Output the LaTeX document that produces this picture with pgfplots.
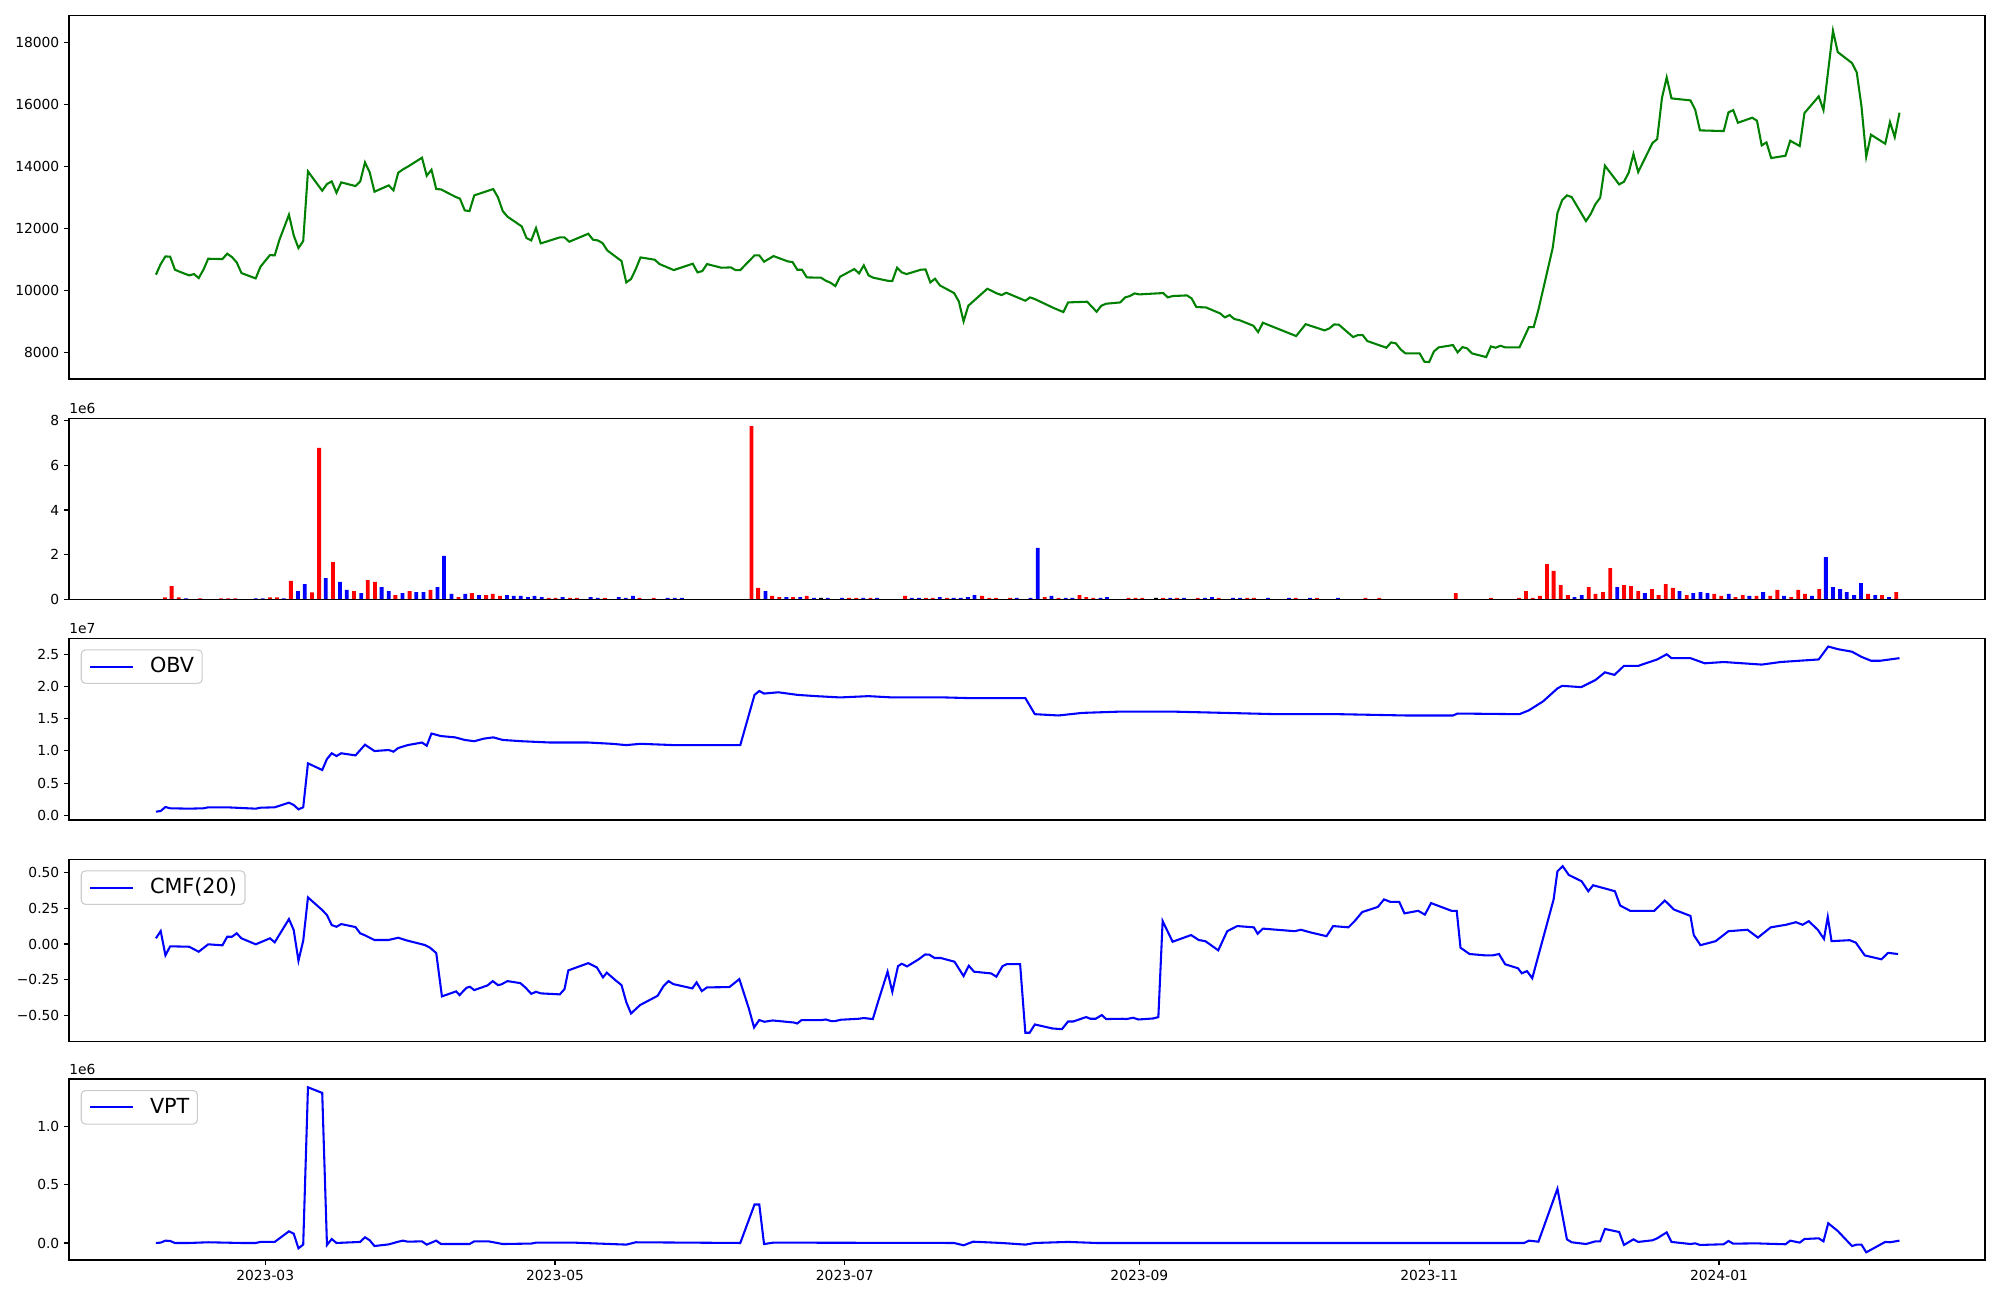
\documentclass[border=0pt]{standalone}
\usepackage{fontspec}
\setmainfont{DejaVu Sans}
\usepackage{pgfplots}
\pgfplotsset{compat=1.18}
\definecolor{mgreen}{RGB}{0,128,0}
\definecolor{mblue}{RGB}{0,0,255}
\definecolor{mred}{RGB}{255,0,0}
\definecolor{legframe}{RGB}{204,204,204}
\tikzset{offlab/.style={anchor=south west, inner sep=0pt, font=\fontsize{10}{12}\selectfont}}
\pgfplotsset{
  panel/.style={
    scale only axis, width=19.16in, anchor=north west,
    xmin=-41.3, xmax=362,
    axis line style={line width=0.8pt},
    every tick/.style={black, line width=0.8pt},
    tick align=outside, major tick length=3.5pt,
    xtick=\empty, xtick pos=bottom, ytick pos=left,
    scaled ticks=false,
    tick label style={font=\fontsize{10}{12}\selectfont},
    axis on top, clip mode=individual,
  },
  legsty/.style={
    legend style={at={(0,1)}, anchor=north west, xshift=0.117in, yshift=-0.11in,
      draw=legframe, line width=0.8pt, rounded corners=3pt, fill=white, fill opacity=0.8,
      draw opacity=1, text opacity=1, font=\fontsize{15}{18}\selectfont,
      inner xsep=0.08in, inner ysep=0.07in, column sep=0.16in,
      nodes={inner sep=0pt, text height=0.155in, text depth=0.04in}},
    legend image code/.code={\draw[##1] (0in,0in) -- (0.427in,0in);},
  },
}
\begin{document}
\begin{tikzpicture}
\path[use as bounding box] (0,0) rectangle (20in,-13in);
% ---------------- Price ----------------
\begin{axis}[panel, at={(0.69in,-0.157in)}, height=3.633in,
  ymin=7130, ymax=18860, ytick={8000,10000,12000,14000,16000,18000},
  yticklabels={8000,10000,12000,14000,16000,18000}]
\addplot[mgreen, line width=1.5pt] coordinates {
(-23,10497)(-22,10841)(-21,11089)(-20,11078)(-19,10658)(-18,10593)(-16,10475)(-15,10518)(-14,10389)(-13,10658)
(-12,11013)(-9,11002)(-8,11175)(-7,11067)(-6,10895)(-5,10550)(-2,10378)(-1,10755)(1,11131)(2,11121)
(3,11627)(5,12434)(6,11767)(7,11358)(8,11584)(9,13833)(12,13209)(13,13424)(14,13510)(15,13144)
(16,13478)(19,13360)(20,13510)(21,14124)(22,13801)(23,13177)(26,13381)(27,13220)(28,13790)(29,13898)
(30,13984)(33,14274)(34,13693)(35,13887)(36,13263)(37,13252)(40,13015)(41,12951)(42,12574)(43,12552)
(44,13058)(48,13263)(49,12994)(50,12552)(51,12370)(54,12057)(55,11681)(56,11605)(57,12003)(58,11508)
(62,11702)(63,11702)(64,11562)(68,11820)(69,11627)(70,11605)(71,11519)(72,11282)(75,10938)(76,10249)
(77,10357)(78,10680)(79,11056)(82,10981)(83,10841)(86,10647)(90,10852)(91,10572)(92,10615)(93,10841)
(96,10723)(98,10733)(99,10647)(100,10647)(103,11121)(104,11121)(105,10916)(107,11099)(110,10927)(111,10906)
(112,10658)(113,10658)(114,10410)(117,10400)(118,10303)(119,10238)(120,10130)(121,10432)(124,10680)(125,10540)
(126,10798)(127,10475)(128,10400)(131,10303)(132,10292)(133,10723)(134,10572)(135,10518)(138,10658)(139,10669)
(140,10249)(141,10367)(142,10152)(145,9905)(146,9636)(147,8990)(148,9496)(152,10045)(154,9894)(155,9840)
(156,9915)(160,9657)(161,9765)(162,9711)(166,9420)(168,9291)(169,9603)(173,9625)(175,9302)(176,9496)
(177,9560)(180,9603)(181,9765)(182,9808)(183,9894)(184,9862)(189,9905)(190,9765)(191,9808)(194,9829)
(195,9733)(196,9452)(198,9442)(201,9248)(202,9119)(203,9194)(204,9065)(205,9033)(208,8850)(209,8645)
(210,8947)(217,8516)(219,8900)(223,8699)(224,8764)(225,8893)(226,8882)(229,8484)(230,8548)(231,8548)
(232,8355)(236,8139)(237,8312)(238,8280)(239,8085)(240,7957)(243,7957)(244,7688)(245,7677)(246,8021)
(247,8150)(250,8226)(251,7989)(252,8161)(253,8118)(254,7957)(257,7838)(258,8183)(259,8139)(260,8204)
(261,8150)(264,8150)(265,8473)(266,8807)(267,8807)(268,9366)(271,11358)(272,12488)(273,12907)(274,13058)
(275,13004)(278,12229)(279,12455)(280,12778)(281,12983)(282,14016)(285,13413)(286,13499)(287,13790)(288,14393)
(289,13812)(292,14748)(293,14877)(294,16201)(295,16868)(296,16190)(300,16126)(301,15824)(302,15157)(307,15135)
(308,15738)(309,15813)(310,15404)(313,15566)(314,15469)(315,14672)(316,14770)(317,14264)(320,14339)(321,14823)
(323,14651)(324,15717)(327,16255)(328,15813)(330,18375)(331,17686)(334,17331)(335,17030)(336,15932)(337,14307)
(338,15017)(341,14726)(342,15426)(343,14942)(344,15728)
};
\end{axis}
% ---------------- Volume ----------------
\begin{axis}[panel, at={(0.69in,-4.183in)}, height=1.81in,
  ymin=0, ymax=8.107, ytick={0,2,4,6,8}, yticklabels={0,2,4,6,8}]
\addplot[ybar, bar width=0.8, bar shift=0pt, fill=mred, draw=none] coordinates {
(-21.1,0.088)(-19.7,0.595)(-18.2,0.088)(-13.7,0.044)(-9.3,0.044)(-7.8,0.044)(-6.3,0.044)(1.0,0.088)(2.5,0.088)
(5.4,0.83)(9.85,0.312)(11.35,6.78)(14.26,1.67)(18.7,0.37)(21.6,0.864)(23.1,0.775)(27.4,0.19)(30.4,0.37)(34.8,0.417)
(40.7,0.1)(43.5,0.28)(46.5,0.19)(47.9,0.238)(49.4,0.148)(59.7,0.06)(61.1,0.06)(64.15,0.06)(65.6,0.06)(71.5,0.06)
(78.8,0.06)(81.8,0.06)(102.35,7.76)(103.75,0.507)(106.7,0.148)(108.2,0.1)(111.1,0.1)(114.0,0.148)(122.9,0.06)
(124.4,0.06)(127.4,0.06)(134.7,0.148)(139.1,0.06)(140.5,0.06)(143.5,0.06)(150.9,0.148)(152.4,0.06)(153.8,0.06)
(156.8,0.06)(164.1,0.1)(167.0,0.06)(171.4,0.19)(172.8,0.1)(174.3,0.06)(181.7,0.06)(183.2,0.06)(184.6,0.06)
(189.0,0.06)(191.9,0.06)(196.3,0.06)(200.7,0.06)(206.7,0.06)(208.1,0.06)(216.9,0.06)(221.4,0.06)(231.6,0.06)
(234.5,0.06)(250.6,0.28)(258.0,0.06)(263.9,0.06)(265.4,0.37)(266.8,0.06)(268.3,0.148)(269.8,1.58)(271.2,1.27)
(272.7,0.64)(274.2,0.19)(278.6,0.55)(280.0,0.238)(281.6,0.327)(283.1,1.40)(286.0,0.64)(287.5,0.595)(289.0,0.37)
(291.9,0.46)(293.3,0.19)(294.8,0.685)(296.3,0.507)(299.2,0.19)(305.0,0.238)(306.5,0.148)(309.5,0.1)(311.0,0.19)
(313.9,0.148)(316.8,0.148)(318.3,0.417)(321.2,0.1)(322.7,0.417)(324.1,0.238)(327.1,0.46)(337.4,0.238)(340.3,0.19)
(343.3,0.327)
};
\addplot[ybar, bar width=0.8, bar shift=0pt, fill=mblue, draw=none] coordinates {
(-16.65,0.044)(-2.0,0.044)(-0.5,0.044)(3.9,0.044)(6.9,0.37)(8.34,0.685)(12.76,0.954)(15.76,0.775)(17.17,0.417)
(20.2,0.28)(24.5,0.55)(26.0,0.37)(28.9,0.28)(31.8,0.327)(33.3,0.327)(36.25,0.55)(37.65,1.94)(39.2,0.238)(42.1,0.238)
(45.0,0.19)(50.9,0.19)(52.3,0.148)(53.8,0.148)(55.3,0.1)(56.7,0.148)(58.2,0.1)(62.6,0.1)(68.5,0.1)(70.0,0.06)
(74.4,0.1)(75.9,0.06)(77.4,0.148)(84.7,0.06)(86.2,0.06)(87.7,0.06)(105.3,0.37)(109.7,0.1)(112.6,0.1)(115.5,0.06)
(118.4,0.06)(121.4,0.06)(125.9,0.06)(128.8,0.06)(136.1,0.06)(137.6,0.06)(142.0,0.1)(144.9,0.06)(146.4,0.06)
(147.9,0.1)(149.3,0.19)(158.2,0.06)(161.1,0.06)(162.6,2.3)(165.5,0.148)(168.5,0.06)(169.9,0.06)(175.8,0.06)
(177.2,0.1)(190.5,0.06)(193.4,0.06)(197.8,0.06)(199.3,0.1)(203.7,0.06)(205.2,0.06)(211.1,0.06)(215.5,0.06)
(219.9,0.06)(225.8,0.06)(275.6,0.1)(277.1,0.19)(284.6,0.55)(290.4,0.28)(297.7,0.37)(300.6,0.28)(302.1,0.327)
(303.6,0.28)(308.05,0.238)(312.4,0.148)(315.3,0.327)(319.7,0.148)(325.6,0.148)(328.5,1.89)(330.0,0.55)(331.5,0.46)
(332.9,0.327)(334.45,0.19)(335.9,0.73)(338.9,0.19)(341.8,0.1)
};
\addplot[ybar, bar width=0.8, bar shift=0pt, fill=black, draw=none] coordinates {
(117.0,0.06)(187.5,0.06)
};
\node[offlab] at ([yshift=0.04in]rel axis cs:0,1) {1e6};
\end{axis}
% ---------------- OBV ----------------
\begin{axis}[panel, legsty, at={(0.69in,-6.383in)}, height=1.817in,
  ymin=-0.073, ymax=2.748, ytick={0,0.5,1,1.5,2,2.5}, yticklabels={0.0,0.5,1.0,1.5,2.0,2.5}]
\addplot[mblue, line width=1.5pt] coordinates {
(-23,0.056)(-22,0.067)(-21,0.129)(-20,0.109)(-16,0.103)(-13,0.109)(-12,0.124)(-8,0.124)(-2,0.103)(-1,0.118)
(2,0.124)(5,0.196)(6,0.16)(7,0.093)(8,0.124)(9,0.807)(12,0.703)(13,0.874)(14,0.963)(15,0.92)
(16,0.963)(19,0.93)(21,1.096)(23,0.998)(26,1.014)(27,0.988)(28,1.045)(30,1.09)(33,1.13)(34,1.08)
(35,1.27)(37,1.23)(40,1.21)(42,1.17)(44,1.15)(46,1.19)(48,1.21)(50,1.17)(54,1.15)(60,1.13)
(68,1.13)(73,1.11)(76,1.09)(79,1.11)(86,1.09)(95,1.09)(100,1.09)(103,1.87)(104,1.93)(105,1.89)
(108,1.91)(112,1.87)(116,1.85)(121,1.83)(127,1.85)(132,1.83)(138,1.83)(143,1.83)(148,1.82)(154,1.82)
(160,1.82)(162,1.57)(167,1.55)(172,1.59)(180,1.61)(191,1.61)(202,1.59)(213,1.57)(226,1.57)(240,1.55)
(250,1.55)(251,1.58)(264,1.57)(266,1.63)(269,1.77)(272,1.97)(273,2.01)(277,1.99)(280,2.10)(282,2.22)
(284,2.18)(286,2.32)(289,2.32)(293,2.42)(295,2.50)(296,2.44)(300,2.44)(303,2.36)(307,2.38)(311,2.36)
(315,2.34)(319,2.38)(323,2.40)(327,2.42)(329,2.62)(331,2.58)(334,2.54)(336,2.46)(338,2.40)(340,2.40)
(342,2.42)(344,2.44)
};
\addlegendentry{OBV}
\node[offlab] at ([yshift=0.04in]rel axis cs:0,1) {1e7};
\end{axis}
% ---------------- CMF ----------------
\begin{axis}[panel, legsty, at={(0.69in,-8.593in)}, height=1.82in,
  ymin=-0.682, ymax=0.594, ytick={-0.5,-0.25,0,0.25,0.5}, yticklabels={−0.50,−0.25,0.00,0.25,0.50}]
\addplot[mblue, line width=1.5pt] coordinates {
(-23,0.04)(-22,0.091)(-21,-0.079)(-20,-0.016)(-16,-0.019)(-14,-0.054)(-12,-0.002)(-9,-0.009)(-8,0.051)(-7,0.051)
(-6,0.075)(-5,0.04)(-2,-0.002)(1,0.04)(2,0.012)(5,0.175)(6,0.098)(7,-0.117)(8,0.023)(9,0.327)
(12,0.238)(13,0.203)(14,0.133)(15,0.121)(16,0.14)(19,0.119)(20,0.075)(21,0.061)(23,0.028)(25.9,0.028)
(28,0.044)(29.7,0.026)(33.6,-0.007)(34.7,-0.026)(36,-0.063)(37.2,-0.367)(40.2,-0.332)(40.9,-0.358)(42.4,-0.306)(43.1,-0.3)
(44,-0.323)(46.8,-0.29)(47.9,-0.26)(49,-0.288)(49.7,-0.283)(51,-0.26)(53.7,-0.274)(54.8,-0.306)(56,-0.349)(57,-0.335)
(58,-0.346)(62,-0.353)(63,-0.316)(63.8,-0.185)(68,-0.134)(69.8,-0.164)(71.1,-0.234)(71.9,-0.201)(73.7,-0.253)(75,-0.288)
(76,-0.407)(77,-0.487)(78.9,-0.428)(82.6,-0.363)(83.8,-0.297)(84.9,-0.26)(85.9,-0.281)(89.9,-0.311)(90.8,-0.269)(91.9,-0.33)
(93,-0.304)(97.7,-0.302)(99.8,-0.246)(101.8,-0.452)(102.9,-0.585)(104,-0.533)(105.1,-0.545)(106.8,-0.536)(111.2,-0.55)(112,-0.557)
(112.9,-0.533)(117.2,-0.533)(118,-0.529)(119.1,-0.54)(120,-0.54)(121.1,-0.531)(124.9,-0.524)(126,-0.519)(127.9,-0.526)(129,-0.405)
(131,-0.194)(132,-0.335)(133.2,-0.155)(134,-0.138)(135.1,-0.157)(137.6,-0.106)(138.9,-0.073)(139.8,-0.075)(140.9,-0.098)(142.2,-0.098)
(145.1,-0.124)(147,-0.225)(148.1,-0.152)(149.2,-0.194)(152.8,-0.206)(153.9,-0.229)(155.2,-0.155)(156.1,-0.141)(158.9,-0.141)(160,-0.622)
(160.9,-0.622)(162,-0.564)(165.7,-0.592)(167.7,-0.597)(169,-0.543)(170.1,-0.543)(172.8,-0.512)(173.7,-0.524)(174.8,-0.524)(176.1,-0.498)
(177,-0.526)(180.5,-0.524)(181.3,-0.526)(182.7,-0.517)(183.8,-0.529)(186.9,-0.522)(188,-0.512)(188.9,0.161)(191,0.016)(194.9,0.063)
(196.5,0.028)(197.9,0.02)(200.6,-0.044)(202.5,0.09)(204.6,0.126)(208.1,0.117)(208.9,0.072)
(210,0.108)(216.7,0.09)(218,0.1)(220.2,0.08)(223.4,0.055)(224.8,0.126)(228,0.117)(229.3,0.16)(230.9,0.224)(234.2,0.26)
(235.5,0.313)(236.8,0.296)(238.7,0.296)(239.8,0.215)(242.7,0.233)(244.1,0.206)(245.4,0.287)(249.7,0.233)(250.8,0.233)(251.6,-0.026)
(253.5,-0.07)(257,-0.08)(258.3,-0.08)(259.7,-0.07)(261,-0.142)(263.7,-0.17)(264.5,-0.205)(265.6,-0.19)(266.7,-0.24)(271.2,0.313)
(272,0.51)(273.1,0.546)(274.4,0.484)(277.1,0.44)(278.5,0.37)(279.5,0.412)(282.5,0.385)(284.1,0.37)(285.2,0.27)(287.3,0.233)
(292.4,0.233)(294.6,0.305)(296.5,0.242)(300,0.197)(300.7,0.063)(302.1,-0.008)(305.3,0.02)(308,0.09)(312,0.1)(314.2,0.045)
(316.9,0.117)(320.1,0.135)(322.2,0.153)(323.6,0.135)(324.9,0.16)(326.8,0.1)(328.1,0.036)(328.9,0.19)(329.7,0.02)(333.5,0.027)
(334.8,0.01)(336.7,-0.08)(340.2,-0.107)(341.6,-0.062)(343.7,-0.07)
};
\addlegendentry{CMF(20)}
\end{axis}
% ---------------- VPT ----------------
\begin{axis}[panel, legsty, at={(0.69in,-10.79in)}, height=1.81in,
  ymin=-0.146, ymax=1.405, ytick={0,0.5,1}, yticklabels={0.0,0.5,1.0},
  xtick={0,61,122,184,245,306}, xticklabels={2023-03,2023-05,2023-07,2023-09,2023-11,2024-01}]
\addplot[mblue, line width=1.5pt] coordinates {
(-23,0.0)(-22,0.003)(-21,0.02)(-20,0.017)(-19,0.0)(-16,0)(-12,0.006)(-5,0)(-2,0)(-1,0.009)
(2,0.009)(5,0.1)(6,0.08)(7,-0.046)(8,-0.014)(9,1.334)(12,1.286)(13,-0.017)(14,0.034)(15,0.0)
(20,0.009)(21,0.049)(22,0.023)(23,-0.026)(26,-0.012)(28,0.011)(29,0.02)(30,0.011)(33,0.014)(34,-0.014)
(36,0.02)(37,-0.009)(43,-0.009)(44,0.014)(47,0.014)(50,-0.009)(56,-0.005)(57,0.003)(65,0.003)(76,-0.014)
(78,0.006)(100,0.0)(103,0.33)(104,0.33)(105,-0.009)(107,0.003)(145,0)(147,-0.02)(149,0.011)(155,0)
(160,-0.014)(162,0)(169,0.009)(175,0)(265,0)(266,0.02)(268,0.011)(272,0.464)(274,0.031)(275,0.006)
(278,-0.009)(280,0.014)(281,0.014)(282,0.12)(285,0.094)(286,-0.017)(288,0.031)(289,0.009)(292,0.023)(293,0.04)
(295,0.091)(296,0.009)(300,-0.009)(301,-0.003)(302,-0.017)(307,-0.011)(308,0.017)(309,-0.006)(314,-0.003)(315,-0.005)
(320,-0.011)(321,0.02)(323,0.003)(324,0.034)(327,0.04)(328,0.014)(329,0.169)(331,0.103)(334,-0.026)(335,-0.014)
(336,-0.014)(337,-0.08)(341,0.009)(342,0.006)(344,0.02)
};
\addlegendentry{VPT}
\node[offlab] at ([yshift=0.04in]rel axis cs:0,1) {1e6};
\end{axis}
\end{tikzpicture}
\end{document}
